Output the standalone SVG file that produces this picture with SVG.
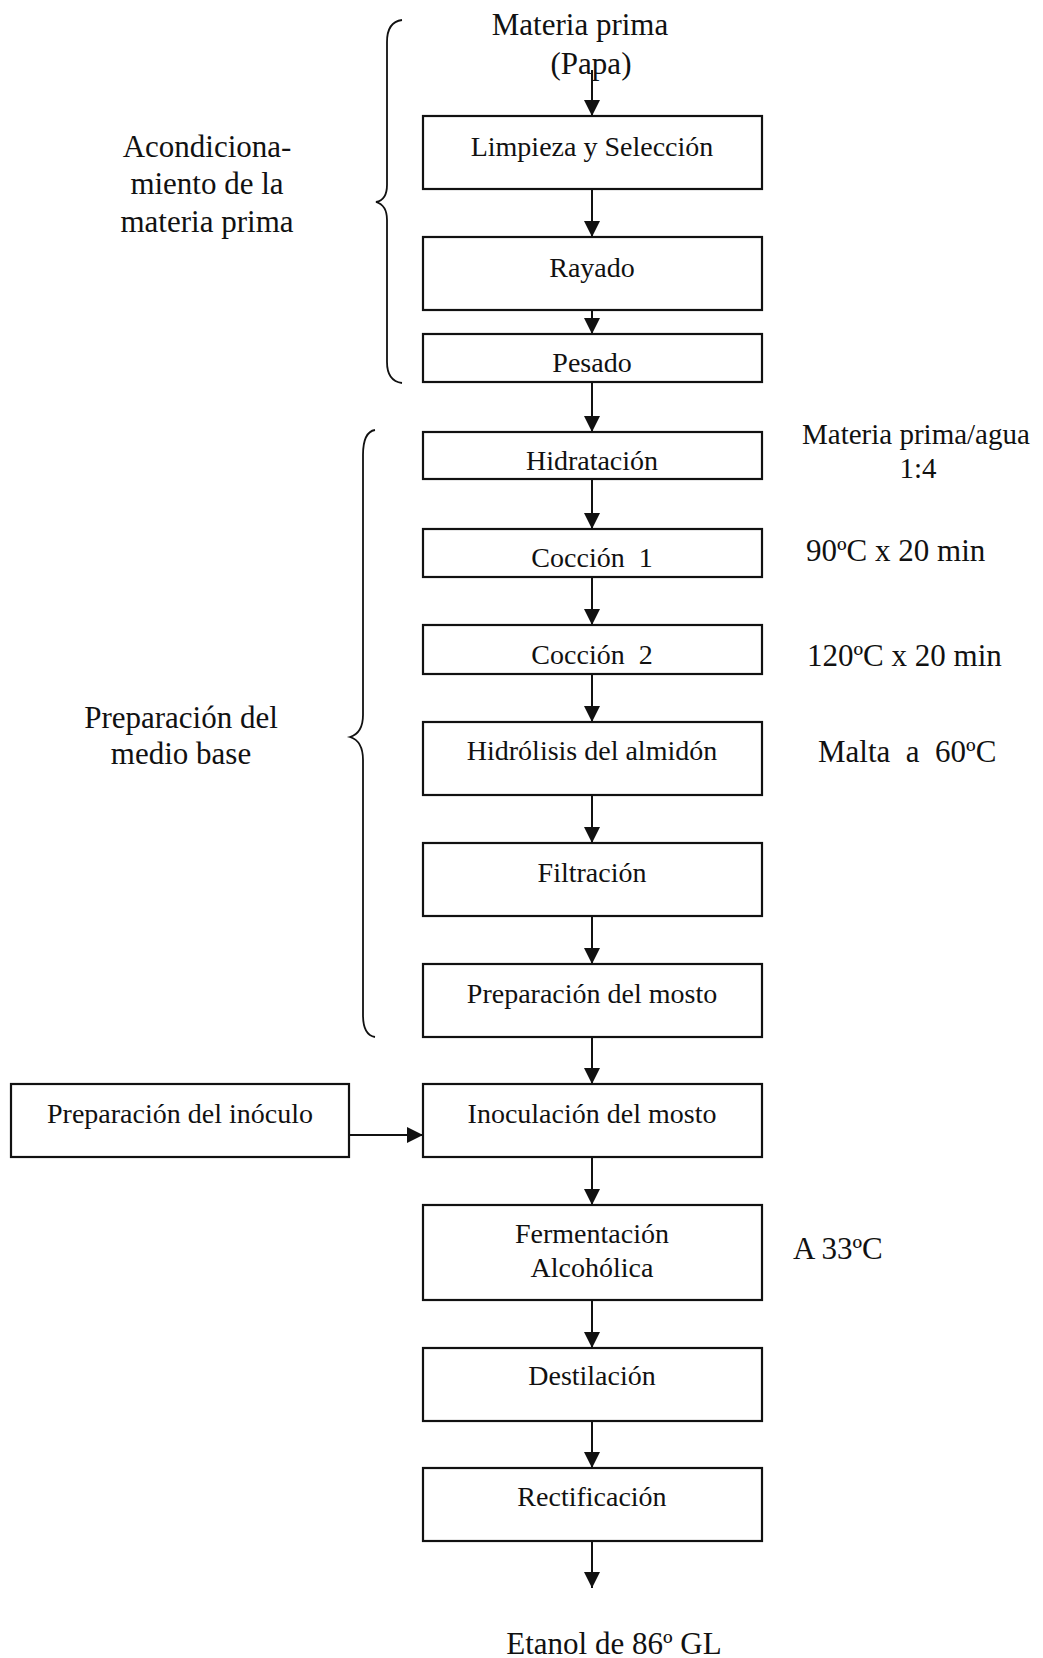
<svg xmlns="http://www.w3.org/2000/svg" width="1043" height="1658" viewBox="0 0 1043 1658">
<defs>
<style>
.box{fill:#fff;stroke:#111;stroke-width:2.2}
.bt{font-family:"Liberation Serif","Times New Roman",serif;font-size:28px;fill:#111;text-anchor:middle;white-space:pre}
.lt{font-family:"Liberation Serif","Times New Roman",serif;font-size:31px;fill:#111;text-anchor:middle;white-space:pre}
.st{font-family:"Liberation Serif","Times New Roman",serif;font-size:31px;fill:#111;white-space:pre}
.ln{stroke:#111;stroke-width:2;fill:none}
.br{stroke:#111;stroke-width:1.8;fill:none}
</style>
<marker id="ahl" viewBox="0 0 16 16" refX="16" refY="8" markerWidth="16" markerHeight="16" markerUnits="userSpaceOnUse" orient="auto">
<path d="M0,0 L16,8 L0,16 Z" fill="#111"/>
</marker>
</defs>
<rect width="1043" height="1658" fill="#fff"/>

<g id="labels">
<text class="lt" x="580" y="35">Materia prima</text>
<text class="lt" x="591" y="74">(Papa)</text>
<text class="lt" x="207" y="157">Acondiciona-</text>
<text class="lt" x="207" y="194">miento de la</text>
<text class="lt" x="207" y="232">materia prima</text>
<text class="lt" x="181" y="728">Preparación del</text>
<text class="lt" x="181" y="764">medio base</text>
<text class="st" x="802" y="444" style="font-size:29px">Materia prima/agua</text>
<text class="lt" x="918" y="478" style="font-size:29px">1:4</text>
<text class="st" x="806" y="561">90ºC x 20 min</text>
<text class="st" x="807" y="666">120ºC x 20 min</text>
<text class="st" x="818" y="762" xml:space="preserve">Malta  a  60ºC</text>
<text class="st" x="793" y="1259">A 33ºC</text>
<text class="lt" x="614" y="1654">Etanol de 86º GL</text>
</g>

<g id="braces">
<path class="br" d="M402,20 Q387,22 387,42 L387,185 Q387,200 376,202 Q387,205 387,220 L387,362 Q387,381 402,383"/>
<path class="br" d="M375,430 Q363,432 363,455 L363,715 Q363,733 350,737 Q363,741 363,760 L363,1015 Q363,1035 375,1037"/>
</g>

<g id="n1"><rect class="box" x="423" y="116" width="339" height="73"/><text class="bt" x="592" y="156">Limpieza y Selección</text></g>
<g id="n2"><rect class="box" x="423" y="237" width="339" height="73"/><text class="bt" x="592" y="277">Rayado</text></g>
<g id="n3"><rect class="box" x="423" y="334" width="339" height="48"/><text class="bt" x="592" y="372">Pesado</text></g>
<g id="n4"><rect class="box" x="423" y="432" width="339" height="47"/><text class="bt" x="592" y="470">Hidratación</text></g>
<g id="n5"><rect class="box" x="423" y="529" width="339" height="48"/><text class="bt" x="592" y="567" xml:space="preserve">Cocción  1</text></g>
<g id="n6"><rect class="box" x="423" y="625" width="339" height="49"/><text class="bt" x="592" y="664" xml:space="preserve">Cocción  2</text></g>
<g id="n7"><rect class="box" x="423" y="722" width="339" height="73"/><text class="bt" x="592" y="760">Hidrólisis del almidón</text></g>
<g id="n8"><rect class="box" x="423" y="843" width="339" height="73"/><text class="bt" x="592" y="882">Filtración</text></g>
<g id="n9"><rect class="box" x="423" y="964" width="339" height="73"/><text class="bt" x="592" y="1003">Preparación del mosto</text></g>
<g id="n10"><rect class="box" x="423" y="1084" width="339" height="73"/><text class="bt" x="592" y="1123">Inoculación del mosto</text></g>
<g id="n11"><rect class="box" x="11" y="1084" width="338" height="73"/><text class="bt" x="180" y="1123">Preparación del inóculo</text></g>
<g id="n12"><rect class="box" x="423" y="1205" width="339" height="95"/><text class="bt" x="592" y="1243">Fermentación</text><text class="bt" x="592" y="1277">Alcohólica</text></g>
<g id="n13"><rect class="box" x="423" y="1348" width="339" height="73"/><text class="bt" x="592" y="1385">Destilación</text></g>
<g id="n14"><rect class="box" x="423" y="1468" width="339" height="73"/><text class="bt" x="592" y="1506">Rectificación</text></g>

<g id="connectors">
<line class="ln" x1="592" y1="70" x2="592" y2="116" marker-end="url(#ahl)"/>
<line class="ln" x1="592" y1="189" x2="592" y2="237" marker-end="url(#ahl)"/>
<line class="ln" x1="592" y1="310" x2="592" y2="334" marker-end="url(#ahl)"/>
<line class="ln" x1="592" y1="382" x2="592" y2="432" marker-end="url(#ahl)"/>
<line class="ln" x1="592" y1="479" x2="592" y2="529" marker-end="url(#ahl)"/>
<line class="ln" x1="592" y1="577" x2="592" y2="625" marker-end="url(#ahl)"/>
<line class="ln" x1="592" y1="674" x2="592" y2="722" marker-end="url(#ahl)"/>
<line class="ln" x1="592" y1="795" x2="592" y2="843" marker-end="url(#ahl)"/>
<line class="ln" x1="592" y1="916" x2="592" y2="964" marker-end="url(#ahl)"/>
<line class="ln" x1="592" y1="1037" x2="592" y2="1084" marker-end="url(#ahl)"/>
<line class="ln" x1="349" y1="1135" x2="423" y2="1135" marker-end="url(#ahl)"/>
<line class="ln" x1="592" y1="1157" x2="592" y2="1205" marker-end="url(#ahl)"/>
<line class="ln" x1="592" y1="1300" x2="592" y2="1348" marker-end="url(#ahl)"/>
<line class="ln" x1="592" y1="1421" x2="592" y2="1468" marker-end="url(#ahl)"/>
<line class="ln" x1="592" y1="1541" x2="592" y2="1588" marker-end="url(#ahl)"/>
</g>
</svg>
